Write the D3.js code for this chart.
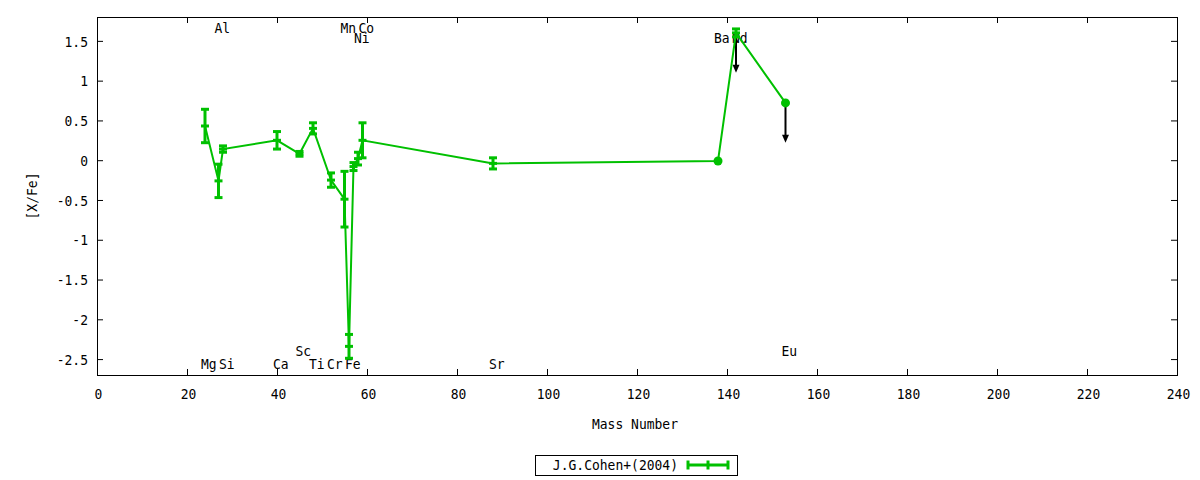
<!DOCTYPE html>
<html>
<head>
<meta charset="utf-8">
<script src="https://cdn.jsdelivr.net/npm/d3@7"></script>
<style>
  body { margin: 0; background: #fff; }
  svg { display: block; }
  text { font-family: "DejaVu Sans Mono", monospace; font-size: 13px; fill: #000; }
</style>
</head>
<body>
<div id="chart"></div>
<script>
// data: [X/Fe] vs mass number, J.G.Cohen+(2004)
const masses = [24, 27, 28, 40, 45, 48, 52, 55, 56, 57, 58, 59, 88, 138, 142, 153];
const xfe    = [0.43, -0.26, 0.14, 0.25, 0.08, 0.40, -0.25, -0.49, -2.34, -0.08, 0.02, 0.25, -0.04, -0.01, 1.60, 0.72];
const xfeErr = [0.21, 0.21, 0.04, 0.11, 0.03, 0.07, 0.09, 0.35, 0.15, 0.05, 0.08, 0.22, 0.07, 0, 0.05, 0];

// upper limits (arrows)
const limitMasses = [142, 153];
const limitFrom = [1.60, 0.72];
const limitTo = [1.10, 0.22];

// element labels
const labelNames  = ['Mg', 'Al', 'Si', 'Ca', 'Sc', 'Ti', 'Cr', 'Mn', 'Fe', 'Ni', 'Co', 'Sr', 'Ba', 'Nd', 'Eu'];
const labelMasses = [24, 27, 28, 40, 45, 48, 52, 55, 56, 58, 59, 88, 138, 142, 153];
const labelY      = [-2.56, 1.66, -2.56, -2.56, -2.39, -2.56, -2.56, 1.66, -2.56, 1.54, 1.66, -2.56, 1.54, 1.54, -2.39];

// ticks
const xTicks = [0, 20, 40, 60, 80, 100, 120, 140, 160, 180, 200, 220, 240];
const yTicks = [-2.5, -2, -1.5, -1, -0.5, 0, 0.5, 1, 1.5];

const seriesName = 'J.G.Cohen+(2004)';
const GREEN = '#00c000';

// dimensions
const WIDTH = 1200;
const HEIGHT = 480;
const MARGIN_TOP = 17;
const MARGIN_BOTTOM = 105;
const MARGIN_LEFT = 97;
const MARGIN_RIGHT = 23;
const SY = 1.15; // glyphs in the reference are a bit taller than wide

// helper: move x/y into a transform so the glyphs can be stretched vertically
function stretch(sel, extra) {
  sel.each(function () {
    const t = d3.select(this);
    const tx = +t.attr('x') || 0;
    const ty = +t.attr('y') || 0;
    t.attr('x', 0).attr('y', 0)
      .attr('transform', `translate(${tx},${ty})${extra || ''} scale(1,${SY})`);
  });
}

const $svg = d3.select('#chart').append('svg')
  .attr('width', WIDTH)
  .attr('height', HEIGHT);

// scales
const x = d3.scaleLinear().domain([0, 240]).range([MARGIN_LEFT, WIDTH - MARGIN_RIGHT]);
const y = d3.scaleLinear().domain([-2.7, 1.8]).range([HEIGHT - MARGIN_BOTTOM, MARGIN_TOP]);

const fmt = d => String(d);

// axes (ticks inside, mirrored)
const $axis = $svg.append('g').attr('class', 'g-axis');

$axis.append('g')
  .attr('transform', `translate(0,${y.range()[0]})`)
  .call(d3.axisBottom(x).tickValues(xTicks).tickFormat(fmt).tickSizeInner(-6).tickSizeOuter(0))
  .call(g => g.select('.domain').remove())
  .call(g => g.selectAll('.tick text').attr('x', 1).attr('y', 19).attr('dy', '0.35em'));

$axis.append('g')
  .attr('transform', `translate(0,${y.range()[1]})`)
  .call(d3.axisTop(x).tickValues(xTicks).tickFormat('').tickSizeInner(-6).tickSizeOuter(0))
  .call(g => g.select('.domain').remove());

$axis.append('g')
  .attr('transform', `translate(${x.range()[0]},0)`)
  .call(d3.axisLeft(y).tickValues(yTicks).tickFormat(fmt).tickSizeInner(-6).tickSizeOuter(0))
  .call(g => g.select('.domain').remove())
  .call(g => g.selectAll('.tick text').attr('x', -9).attr('y', 0).attr('dy', '0.35em'));

$axis.append('g')
  .attr('transform', `translate(${x.range()[1]},0)`)
  .call(d3.axisRight(y).tickValues(yTicks).tickFormat('').tickSizeInner(-6).tickSizeOuter(0))
  .call(g => g.select('.domain').remove());

$axis.selectAll('text').attr('fill', '#000').style('font-size', '13px').style('font-family', '"DejaVu Sans Mono", monospace');
$axis.selectAll('line').attr('stroke', '#000');
stretch($axis.selectAll('.tick text'));

// frame
$svg.append('rect')
  .attr('x', x.range()[0] + 0.5)
  .attr('y', y.range()[1] + 0.5)
  .attr('width', x.range()[1] - x.range()[0])
  .attr('height', y.range()[0] - y.range()[1])
  .attr('fill', 'none')
  .attr('stroke', '#000');

// axis titles
$svg.append('text')
  .attr('x', (x.range()[0] + x.range()[1]) / 2 - 2)
  .attr('y', 424)
  .attr('dy', '0.35em')
  .attr('text-anchor', 'middle')
  .text('Mass Number')
  .call(stretch);

$svg.append('text')
  .attr('x', 32)
  .attr('y', (y.range()[0] + y.range()[1]) / 2)
  .attr('dy', '0.35em')
  .attr('text-anchor', 'middle')
  .text('[X/Fe]')
  .call(stretch, ' rotate(-90)');

// element labels
$svg.append('g').attr('class', 'labels')
  .selectAll('text')
  .data(labelNames)
  .join('text')
  .attr('x', (d, i) => x(labelMasses[i]) - 4)
  .attr('y', (d, i) => y(labelY[i]))
  .attr('dy', '0.35em')
  .text(d => d)
  .call(stretch);

// upper limit arrows
const $arrows = $svg.append('g').attr('class', 'arrows');
limitMasses.forEach((m, i) => {
  const x0 = x(m), y0 = y(limitFrom[i]), y1 = y(limitTo[i]);
  $arrows.append('line')
    .attr('x1', x0).attr('x2', x0)
    .attr('y1', y0).attr('y2', y1 - 6)
    .attr('stroke', '#000').attr('stroke-width', 2);
  $arrows.append('path')
    .attr('d', `M${x0 - 3.5},${y1 - 8} L${x0 + 3.5},${y1 - 8} L${x0},${y1} Z`)
    .attr('fill', '#000');
});

// series
const points = masses.map((m, i) => ({ m, v: xfe[i], e: xfeErr[i] }));
const $vis = $svg.append('g').attr('class', 'g-vis');

$vis.append('path')
  .datum(points)
  .attr('fill', 'none')
  .attr('stroke', GREEN)
  .attr('stroke-width', 2)
  .attr('d', d3.line().x(d => x(d.m)).y(d => y(d.v)));

const $bars = $vis.selectAll('g.bar')
  .data(points)
  .join('g')
  .attr('class', 'bar')
  .attr('stroke', GREEN)
  .attr('fill', GREEN);

$bars.filter(d => d.e > 0).each(function (d) {
  const g = d3.select(this);
  const cx = x(d.m), yt = y(d.v + d.e), yb = y(d.v - d.e);
  g.append('line').attr('x1', cx).attr('x2', cx).attr('y1', yt).attr('y2', yb).attr('stroke-width', 3);
  [yt, yb, y(d.v)].forEach(yy => {
    g.append('line').attr('x1', cx - 4).attr('x2', cx + 4).attr('y1', yy).attr('y2', yy).attr('stroke-width', 3);
  });
});

$bars.filter(d => d.e === 0)
  .append('circle')
  .attr('cx', d => x(d.m))
  .attr('cy', d => y(d.v))
  .attr('r', 4.5)
  .attr('stroke', 'none');

// legend
const $legend = $svg.append('g').attr('class', 'legend');
$legend.append('rect')
  .attr('x', 535.5).attr('y', 455.5)
  .attr('width', 202).attr('height', 20)
  .attr('fill', '#fff').attr('stroke', '#000');
$legend.append('text')
  .attr('x', 678).attr('y', 465)
  .attr('dy', '0.35em')
  .attr('text-anchor', 'end')
  .text(seriesName)
  .call(stretch);
const lx0 = 688, lx1 = 728, ly = 465;
$legend.append('line')
  .attr('x1', lx0).attr('x2', lx1).attr('y1', ly).attr('y2', ly)
  .attr('stroke', GREEN).attr('stroke-width', 3);
[lx0, (lx0 + lx1) / 2, lx1].forEach(xx => {
  $legend.append('line')
    .attr('x1', xx).attr('x2', xx).attr('y1', ly - 4.5).attr('y2', ly + 4.5)
    .attr('stroke', GREEN).attr('stroke-width', 3);
});
</script>
</body>
</html>
